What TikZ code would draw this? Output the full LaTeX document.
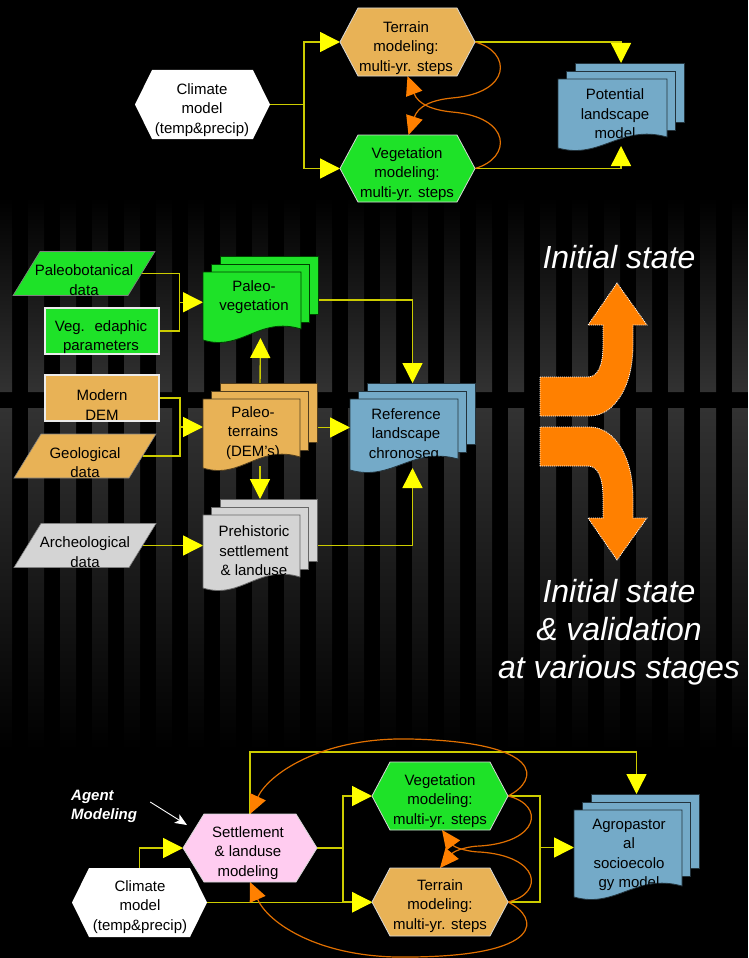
\documentclass[tikz,border=0pt]{standalone}
\usepackage{fontspec}
\setmainfont{Liberation Sans}
\usetikzlibrary{arrows.meta,calc}

\definecolor{stripe}{RGB}{50,50,50}
\definecolor{cgreen}{RGB}{30,226,40}
\definecolor{ctan}{RGB}{232,178,86}
\definecolor{cblue}{RGB}{116,170,200}
\definecolor{cgray}{RGB}{212,212,212}
\definecolor{cpink}{RGB}{255,204,240}
\definecolor{conline}{RGB}{204,204,0}
\definecolor{ctip}{RGB}{255,255,0}
\definecolor{corange}{RGB}{255,128,0}
\definecolor{ocurve}{RGB}{225,112,0}
\definecolor{hexedge}{RGB}{215,215,215}

\pgfdeclarelayer{bg}
\pgfdeclarelayer{links}
\pgfsetlayers{bg,links,main}

\tikzset{
  txt/.style={font=\fontsize{15}{19.5}\selectfont, text=black, align=center, inner sep=0pt},
  bigtxt/.style={font=\fontsize{32}{38}\selectfont\itshape, text=white, align=center, inner sep=0pt},
  yl/.style={draw=conline, line width=1.4pt},
  ya/.style={yl, -{Triangle[length=20pt,width=20pt,color=ctip]}},
  oa/.style={draw=ocurve, line width=1.2pt, -{Triangle[length=19pt,width=17pt,color=corange]}},
  hexcol/.style={fill=#1, draw=hexedge, line width=0.8pt},
  rectbox/.style={draw=white!92!black, line width=1.5pt, minimum width=114pt, minimum height=46pt, inner sep=0pt, outer sep=0pt},
  bigarrow/.style={fill=corange, draw=white, line width=0.8pt, dash pattern=on 1pt off 1pt},
}

% hexagon: name, cx, cy, width, height, slant, style
\newcommand\hexshape[7]{%
  \path[#7] (#2-#4/2,#3) -- (#2-#4/2+#6,#3-#5/2) -- (#2+#4/2-#6,#3-#5/2)
     -- (#2+#4/2,#3) -- (#2+#4/2-#6,#3+#5/2) -- (#2-#4/2+#6,#3+#5/2) -- cycle;
  \node[inner sep=0pt, outer sep=0pt, minimum width=#4pt, minimum height=#5pt] (#1) at (#2,#3) {};
}

% stacked documents: name, x0, y0, width, height, fill, outline
\newcommand\docstack[7]{%
  \foreach \k in {2,1} {
    \path[fill=#6, draw=#7, line width=0.8pt] (#2+8.5*\k,#3-8*\k) rectangle ++(#4,0.86*#5);
  }
  \path[fill=#6, draw=#7, line width=0.8pt] (#2,#3) -- (#2+#4,#3) -- (#2+#4,#3+#5-11)
     .. controls (#2+0.57*#4,#3+#5-24) and (#2+0.39*#4,#3+#5+12) .. (#2,#3+#5) -- cycle;
  \node[inner sep=0pt, outer sep=0pt, minimum width=#4pt, minimum height=#5pt-12pt, anchor=north west] (#1) at (#2,#3) {};
  \coordinate (#1-top) at (#2+8.5+#4/2,#3-16);
  \coordinate (#1-bot) at (#2+8.5+#4/2,#3+#5-2);
}

% data parallelogram: name, cx, cy, fill, outline
\newcommand\datapara[5]{%
  \path[fill=#4, draw=#5, line width=0.6pt] (#2-71,#3+22) -- (#2+44,#3+22) -- (#2+71,#3-22) -- (#2-44,#3-22) -- cycle;
  \node[inner sep=0pt, outer sep=0pt, minimum width=115pt, minimum height=44pt] (#1) at (#2,#3) {};
}

\begin{document}
\begin{tikzpicture}[x=1pt,y=-1pt]
\useasboundingbox (0,0) rectangle (748,958);

% ---------- background with striped bands ----------
\begin{pgfonlayer}{bg}
  \fill[black] (0,0) rectangle (748,958);
  \shade[top color=black, bottom color=stripe]
    \foreach \k in {0,...,23} {(32*\k-4,198) rectangle (32*\k+12,392)};
  \shade[top color=stripe, bottom color=black]
    \foreach \k in {0,...,23} {(32*\k-4,408) rectangle (32*\k+12,750)};
\end{pgfonlayer}

% ---------- potential landscape model ----------
\hexshape{clim1}{202.5}{104.5}{135}{69}{17}{fill=white}
\hexshape{terr1}{407.5}{42}{135}{68}{18}{hexcol=ctan}
\hexshape{veg1}{407.5}{168.5}{135}{67}{18}{hexcol=cgreen}
\docstack{pot}{558}{79}{109}{69}{cblue}{cblue!30!black}

\node[txt] (clim1-t) at (202,110) {Climate\\model\\(temp\&precip)};
\node[txt] (terr1-t) at (406,48) {Terrain\\modeling:\\multi-yr. steps};
\node[txt] (veg1-t) at (407,174) {Vegetation\\modeling:\\multi-yr. steps};
\node[txt] (pot-t) at (615,114) {Potential\\landscape\\model};

% ---------- reference landscape ----------
\datapara{pbot}{84}{273.5}{cgreen}{black!50}
\node[rectbox, fill=cgreen] (vegp) at (102,331) {};
\node[rectbox, fill=ctan] (mdem) at (102,398) {};
\datapara{geo}{85}{456}{ctan}{black!50}
\datapara{arch}{85}{545.5}{cgray}{black!50}
\docstack{pveg}{203}{272}{98}{68}{cgreen}{green!25!black}
\docstack{pter}{203}{399}{97}{69}{ctan}{ctan!35!black}
\docstack{preh}{203}{515}{97}{73}{cgray}{black!60}
\docstack{ref}{350}{399}{108}{71}{cblue}{cblue!30!black}

\node[txt] (pbot-t) at (84,280) {Paleobotanical\\data};
\node[txt] (vegp-t) at (101,337) {Veg.~ edaphic\\parameters};
\node[txt] (mdem-t) at (102,405) {Modern\\DEM};
\node[txt] (geo-t) at (85,462.5) {Geological\\data};
\node[txt] (arch-t) at (85,552) {Archeological\\data};
\node[txt] (pveg-t) at (254,297) {Paleo-\\vegetation};
\node[txt] (pter-t) at (253,433) {Paleo-\\terrains\\(DEM’s)};
\node[txt] (preh-t) at (254,551) {Prehistoric\\settlement\\\& landuse};
\node[txt] (ref-t) at (406,435) {Reference\\landscape\\chronoseg.};

% ---------- feedback arrows ----------
\path[bigarrow] (540,377) -- (588,377) .. controls (598,377) and (603,365) .. (603,345)
  -- (603,325) -- (588,325) -- (617,283) -- (647,325) -- (633,325) -- (633,345)
  .. controls (633,390) and (612,416) .. (590,416) -- (540,416) -- cycle;
\path[bigarrow] (540,466) -- (588,466) .. controls (598,466) and (603,478) .. (603,498)
  -- (603,518) -- (588,518) -- (617,560) -- (647,518) -- (633,518) -- (633,498)
  .. controls (633,453) and (612,427) .. (590,427) -- (540,427) -- cycle;

\node[bigtxt] (lbl1) at (619,257) {Initial state};
\node[bigtxt] (lbl2) at (619,632) {Initial state\\\& validation\\at various stages};

% ---------- agropastoral socioecology model ----------
\hexshape{settle}{250}{848}{134}{68}{21}{hexcol=cpink}
\hexshape{clim2}{139.5}{902.5}{135}{69}{17}{fill=white}
\hexshape{veg2}{440}{796}{136}{68}{18}{hexcol=cgreen}
\hexshape{terr2}{440}{902}{136}{68}{18}{hexcol=ctan}
\docstack{agro}{574}{810}{108}{87}{cblue}{cblue!30!black}

\node[txt] (settle-t) at (248,853) {Settlement\\\& landuse\\modeling};
\node[txt] (clim2-t) at (140,907) {Climate\\model\\(temp\&precip)};
\node[txt] (veg2-t) at (440,801) {Vegetation\\modeling:\\multi-yr. steps};
\node[txt] (terr2-t) at (440,906) {Terrain\\modeling:\\multi-yr. steps};
\node[txt] (agro-t) at (629,855) {Agropastor\\al\\socioecolo\\gy model};

\node[font=\fontsize{15}{19}\selectfont\bfseries\itshape, text=white, align=left,
      anchor=west, inner sep=0pt] (agent) at (71,806) {Agent\\Modeling};

% ---------- connectors ----------
\begin{pgfonlayer}{links}
  % top
  \draw[yl] (clim1.east) -- ++(34,0) coordinate (j1);
  \draw[ya] (j1) |- (terr1.west);
  \draw[ya] (j1) |- (veg1.west);
  \draw[ya] (terr1.east) -| (pot-top);
  \draw[ya] (veg1.east) -| (pot-bot);
  \draw[oa] (terr1.east) .. controls (512,52) and (512,93) .. (452,98)
            .. controls (432,100) and (418,106) .. ([xshift=1pt]veg1.north);
  \draw[oa] (veg1.east) .. controls (512,158) and (512,117) .. (452,112)
            .. controls (432,110) and (418,104) .. (terr1.south);

  % middle
  \draw[yl] (pbot.east) -- ++(38,0) coordinate (j2) -- (j2 |- vegp.east) -- (vegp.east);
  \coordinate (j2m) at ($(j2)!.5!(j2 |- vegp.east)$);
  \draw[ya] (j2m) -- (j2m -| pveg.west);
  \draw[yl] (mdem.east) -- ++(21,0) coordinate (j4) -- (j4 |- geo.east) -- (geo.east);
  \coordinate (j4m) at ($(j4)!.5!(j4 |- geo.east)$);
  \draw[ya] (j4m) -- (j4m -| pter.west);
  \draw[ya] (arch.east) -- (arch.east -| preh.west);
  \draw[ya] (pter-top) -- (pveg-bot);
  \draw[ya] (pter-bot) -- (preh-top);
  \draw[ya] (pter.east) -- (pter.east -| ref.west);
  \draw[ya] (pveg.east) -| (ref-top);
  \draw[ya] (preh.east) -| (ref-bot);

  % bottom
  \draw[ya] (clim2.north) |- (settle.west);
  \draw[yl] (settle.east) -- ++(26,0) coordinate (j5);
  \draw[ya] (j5) |- (veg2.west);
  \draw[ya] (j5) |- (terr2.west);
  \draw[ya] (clim2.east) -- (clim2.east -| terr2.west);
  \draw[yl] (veg2.east) -- ++(32,0) coordinate (j6) -- (j6 |- terr2.east) -- (terr2.east);
  \draw[ya] (j6 |- agro.west) -- (agro.west);
  \draw[ya] (settle.north) -- ++(0,-62) -| (agro-top);

  \draw[oa] (veg2.east) .. controls (545,805) and (540,842) .. (480,846)
            .. controls (470,846) and (455,850) .. (terr2.north);
  \draw[oa] (terr2.east) .. controls (545,893) and (540,856) .. (480,852)
            .. controls (470,852) and (455,848) .. ([xshift=2pt]veg2.south);
  \draw[oa] (veg2.east) .. controls (540,780) and (545,742) .. (410,739)
            .. controls (320,737) and (268,775) .. (settle.north);
  \draw[oa] (terr2.east) .. controls (540,918) and (545,956) .. (410,957)
            .. controls (320,959) and (268,923) .. (settle.south);

  \draw[white, line width=0.9pt, -{Stealth[length=12pt,width=10pt,inset=3pt]}]
    ($(agent.east)+(13,-4)$) -- ($(settle.west)+(4,-23)$);
\end{pgfonlayer}
\end{tikzpicture}
\end{document}
